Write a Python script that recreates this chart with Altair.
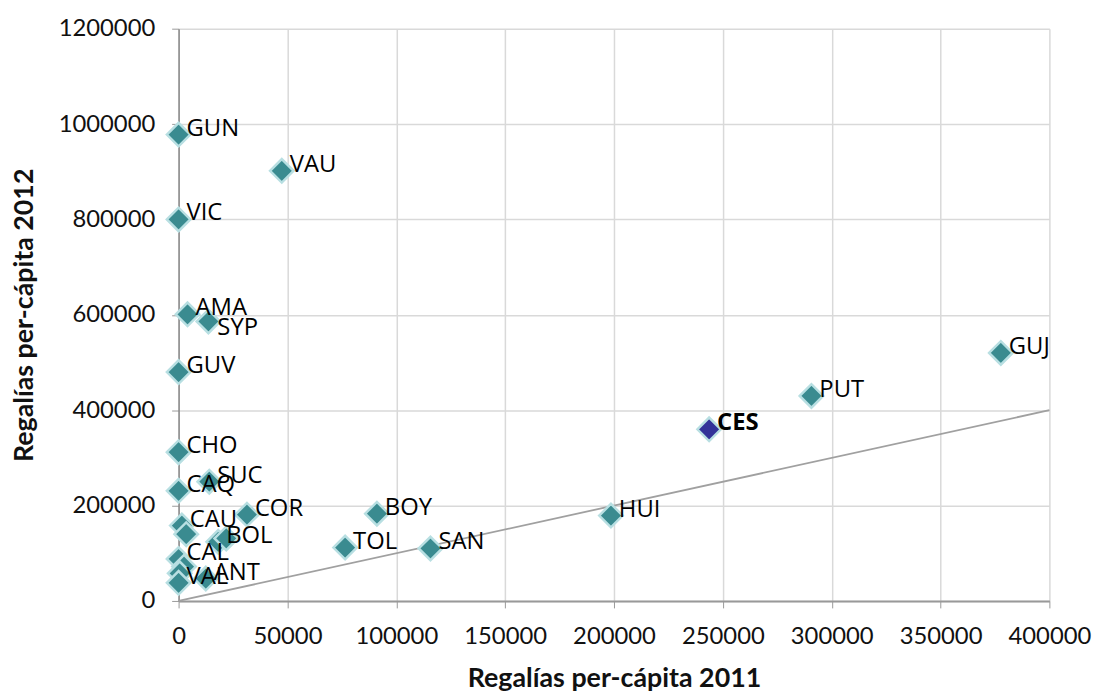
import altair as alt
import pandas as pd

# Data
labels = ["GUN", "VAU", "VIC", "AMA", "SYP", "GUV", "CHO", "SUC", "CAQ", "COR",
          "BOY", "HUI", "TOL", "SAN", "CES", "PUT", "GUJ",
          "CAU", "", "BOL", "", "CAL", "", "", "VAL", "ANT"]
x2011 = [0, 47400, 0, 4100, 13700, 0, 0, 14100, 0, 31400,
         91100, 198600, 76500, 115700, 243700, 290700, 377700,
         1500, 3500, 18200, 21900, 0, 2500, 500, 0, 12500]
y2012 = [978000, 902000, 800000, 601000, 586000, 480000, 312000, 250000, 231000, 181000,
         183000, 179000, 112000, 110000, 360000, 430000, 520000,
         158000, 140000, 124000, 131000, 88000, 72000, 58000, 38000, 47000]
highlight = ["CES"]
below_labels = ["SYP"]

line_x = [0, 400000]
line_y = [0, 400000]

x_ticks = [0, 50000, 100000, 150000, 200000, 250000, 300000, 350000, 400000]
y_ticks = [0, 200000, 400000, 600000, 800000, 1000000, 1200000]

df = pd.DataFrame({"label": labels, "x": x2011, "y": y2012})
df["grp"] = ["hi" if l in highlight else "base" for l in labels]
line_df = pd.DataFrame({"x": line_x, "y": line_y})

lab = df[df["label"] != ""]
df_norm = lab[~lab["label"].isin(highlight + below_labels)]
df_below = lab[lab["label"].isin(below_labels)]
df_bold = lab[lab["label"].isin(highlight)]

xscale = alt.Scale(domain=[0, 400000], nice=False, zero=True)
yscale = alt.Scale(domain=[0, 1200000], nice=False, zero=True)

xaxis = alt.Axis(values=x_ticks, format="d", title="Regalías per-cápita 2011",
                 labelFont="Lato", labelFontSize=24, labelColor="#111111",
                 labelPadding=17, tickSize=7, tickColor="#999999",
                 domainColor="#999999", domainWidth=2,
                 gridColor="#D9D9D9", gridWidth=1.5,
                 titleFont="Lato", titleFontSize=27, titleFontWeight="bold",
                 titleColor="#111111", titlePadding=17, labelFlush=False)
yaxis = alt.Axis(values=y_ticks, format="d", title="Regalías per-cápita 2012",
                 labelFont="Lato", labelFontSize=24, labelColor="#111111",
                 labelPadding=17, tickSize=7, tickColor="#999999",
                 domainColor="#888888", domainWidth=1.5,
                 gridColor="#D9D9D9", gridWidth=1.5,
                 titleFont="Lato", titleFontSize=27, titleFontWeight="bold",
                 titleColor="#111111", titlePadding=20, labelFlush=False)

line = alt.Chart(line_df).mark_line(color="#A0A0A0", strokeWidth=1.8).encode(
    x=alt.X("x:Q", scale=xscale, axis=xaxis),
    y=alt.Y("y:Q", scale=yscale, axis=yaxis),
)

points = alt.Chart(df).mark_point(shape="diamond", filled=True, size=560,
                                  stroke="#B8DFE2", strokeWidth=2.5, opacity=1).encode(
    x=alt.X("x:Q", scale=xscale),
    y=alt.Y("y:Q", scale=yscale),
    fill=alt.Fill("grp:N", scale=alt.Scale(domain=["base", "hi"],
                                           range=["#3A8B90", "#333399"]), legend=None),
)


def text_layer(data, dx, dy, weight):
    return alt.Chart(data).mark_text(
        align="left", baseline="middle", dx=dx, dy=dy, font="Open Sans",
        fontSize=24, fontWeight=weight, color="#000000").encode(
        x=alt.X("x:Q", scale=xscale),
        y=alt.Y("y:Q", scale=yscale),
        text="label:N",
    )


text_norm = text_layer(df_norm, 8, -6, "normal")
text_below = text_layer(df_below, 9, 7, "normal")
text_bold = text_layer(df_bold, 8, -6, "bold")

chart = alt.layer(line, points, text_norm, text_below, text_bold).properties(
    width=878, height=577,
    padding={"left": 2, "top": 6, "right": 5, "bottom": 5},
    background="#FFFFFF",
).configure_view(stroke=None)

chart.save("out.html", embed_options={"renderer": "svg", "actions": False})
